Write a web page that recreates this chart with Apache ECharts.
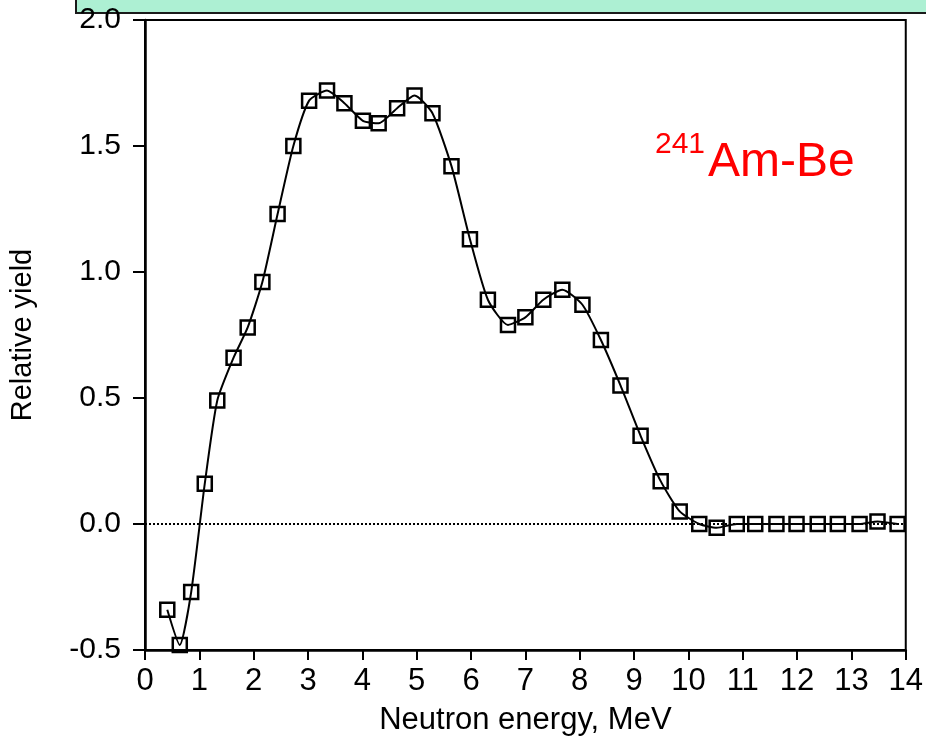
<!DOCTYPE html>
<html>
<head>
<meta charset="utf-8">
<style>
  html, body { margin: 0; padding: 0; background: #fff; }
  #chart { width: 926px; height: 752px; }
</style>
<script src="https://cdn.jsdelivr.net/npm/echarts@6/dist/echarts.min.js"></script>
</head>
<body>
<div id="chart"></div>
<script>
// 读图得到的数据点 (MeV, relative yield)
const energy = [0.41, 0.64, 0.85, 1.10, 1.33, 1.63, 1.89, 2.16, 2.44, 2.73,
  3.02, 3.35, 3.67, 4.01, 4.30, 4.64, 4.96, 5.29, 5.64, 5.98,
  6.31, 6.68, 7.00, 7.33, 7.68, 8.05, 8.39, 8.75, 9.12, 9.49,
  9.84, 10.20, 10.52, 10.89, 11.23, 11.62, 11.99, 12.38, 12.75, 13.15,
  13.48, 13.85];
const relYield = [-0.34, -0.48, -0.27, 0.16, 0.49, 0.66, 0.78, 0.96, 1.23, 1.50,
  1.68, 1.72, 1.67, 1.60, 1.59, 1.65, 1.70, 1.63, 1.42, 1.13,
  0.89, 0.79, 0.82, 0.89, 0.93, 0.87, 0.73, 0.55, 0.35, 0.17,
  0.05, 0.0, -0.015, 0.0, 0.0, 0.0, 0.0, 0.0, 0.0, 0.0,
  0.01, 0.0];
const xTicks = { min: 0, max: 14, step: 1 };
const yTicks = { min: -0.5, max: 2.0, step: 0.5 };

const FONT = '"Liberation Sans", Arial, sans-serif';

const chart = echarts.init(document.getElementById('chart'));

const points = energy.map((e, i) => [e, relYield[i]]);

chart.setOption({
  animation: false,
  backgroundColor: '#fff',
  grid: {
    left: 144, right: 18, top: 20, bottom: 102,
    show: true, borderColor: '#000', borderWidth: 2
  },
  xAxis: {
    type: 'value',
    min: xTicks.min, max: xTicks.max, interval: xTicks.step,
    name: 'Neutron energy, MeV',
    nameLocation: 'middle',
    nameGap: 55,
    nameTextStyle: { color: '#000', fontSize: 31, fontFamily: FONT },
    axisLine: { onZero: false, lineStyle: { color: '#000', width: 2.5 } },
    axisTick: { length: 10, lineStyle: { color: '#000', width: 2 } },
    axisLabel: { color: '#000', fontSize: 31, fontFamily: FONT, margin: 16 },
    splitLine: { show: false }
  },
  yAxis: {
    type: 'value',
    min: yTicks.min, max: yTicks.max, interval: yTicks.step,
    name: 'Relative yield',
    nameLocation: 'middle',
    nameGap: 108,
    nameTextStyle: { color: '#000', fontSize: 29, fontFamily: FONT },
    axisLine: { onZero: false, lineStyle: { color: '#000', width: 2.5 } },
    axisTick: { length: 12, lineStyle: { color: '#000', width: 2 } },
    axisLabel: {
      color: '#000', fontSize: 30, fontFamily: FONT, margin: 24,
      formatter: v => v.toFixed(1)
    },
    splitLine: { show: false }
  },
  series: [{
    type: 'line',
    data: points,
    smooth: 0.2,
    symbol: 'rect',
    symbolSize: 14,
    showAllSymbol: true,
    lineStyle: { color: '#000', width: 2 },
    itemStyle: { color: 'rgba(255,255,255,0)', borderColor: '#000', borderWidth: 2.5 },
    markLine: {
      silent: true,
      symbol: 'none',
      label: { show: false },
      lineStyle: { color: '#000', type: 'dotted', width: 2 },
      data: [{ yAxis: 0 }]
    },
    z: 3
  }],
  graphic: [
    {
      type: 'rect',
      shape: { x: 76, y: -4, width: 860, height: 17 },
      style: { fill: '#adf0d3', stroke: '#1a1a1a', lineWidth: 2 }
    },
    {
      type: 'text',
      left: 655, top: 130,
      style: { text: '241', fill: '#ff0000', fontSize: 30, fontFamily: FONT }
    },
    {
      type: 'text',
      left: 708, top: 139,
      style: { text: 'Am-Be', fill: '#ff0000', fontSize: 48, fontFamily: FONT }
    }
  ]
});

window.addEventListener('resize', () => chart.resize());
</script>
</body>
</html>
